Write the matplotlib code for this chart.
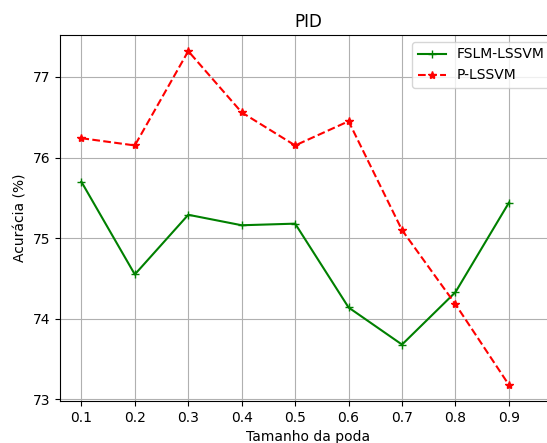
import matplotlib
matplotlib.use("Agg")
import matplotlib.pyplot as plt

x = [0.1, 0.2, 0.3, 0.4, 0.5, 0.6, 0.7, 0.8, 0.9]
fslm = [75.70, 74.55, 75.29, 75.16, 75.18, 74.14, 73.68, 74.33, 75.44]
plssvm = [76.24, 76.15, 77.32, 76.56, 76.15, 76.45, 75.10, 74.18, 73.18]

fig = plt.figure(figsize=(5.47, 4.43), dpi=100)
ax = fig.add_axes([60/547, 42/443, 497/547, 366/443])
ax.plot(x, fslm, color='green', linestyle='-', marker='+', label='FSLM-LSSVM')
ax.plot(x, plssvm, color='red', linestyle='--', marker='*', label='P-LSSVM')
ax.set_xlim(0.06, 0.99)
ax.set_ylim(72.98, 77.52)
ax.set_xticks(x)
ax.set_yticks([73, 74, 75, 76, 77])
ax.set_title('PID')
ax.set_xlabel('Tamanho da poda')
ax.set_ylabel('Acurácia (%)')
ax.grid(True)
ax.legend(loc='upper right')
fig.savefig('out.png', dpi=100)
